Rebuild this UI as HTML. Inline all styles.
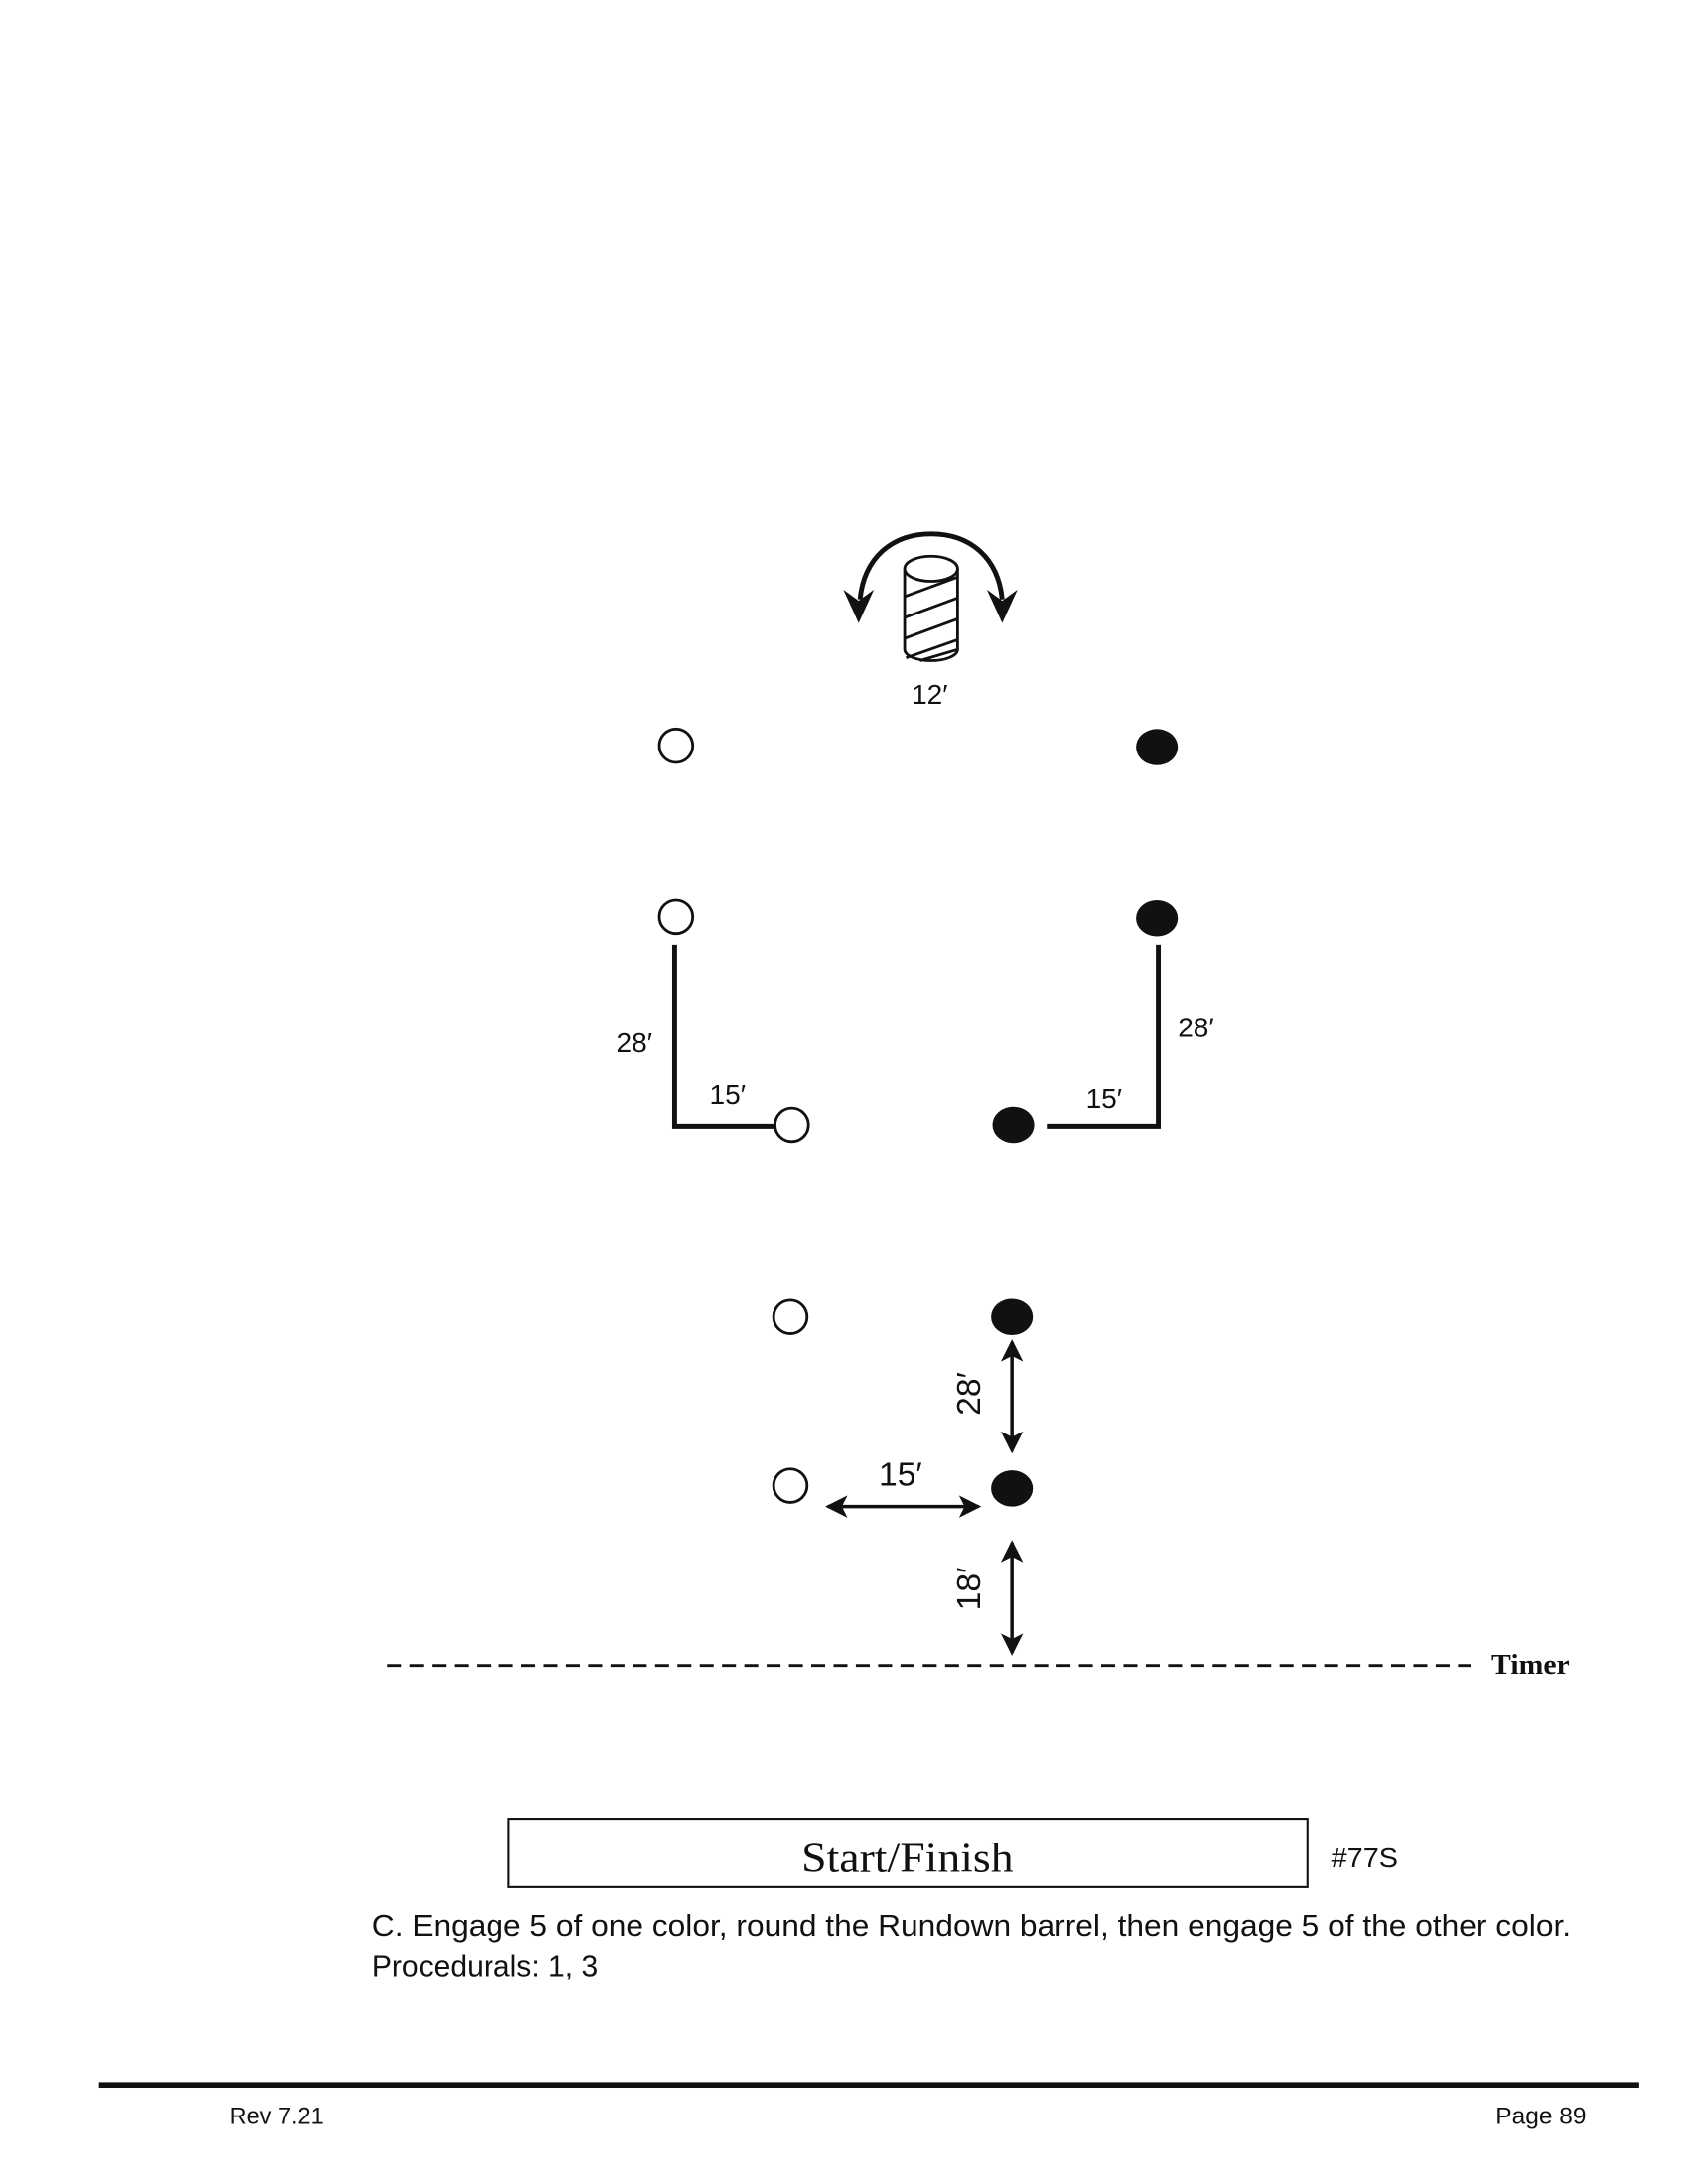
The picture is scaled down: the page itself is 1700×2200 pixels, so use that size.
<!DOCTYPE html>
<html><head><meta charset="utf-8"><style>html,body{margin:0;padding:0;background:#fff}svg{display:block}</style></head>
<body>
<svg width="1700" height="2200" viewBox="0 0 1211 1567" xmlns="http://www.w3.org/2000/svg">
<defs>
<marker id="ah" viewBox="0 0 16 16" refX="14" refY="8" markerWidth="16" markerHeight="16" markerUnits="userSpaceOnUse" orient="auto-start-reverse">
<path d="M0,0 L16,8 L0,16 L4,8 Z" fill="#111"/></marker>
</defs>
<g font-family="'Liberation Sans',sans-serif" fill="#111">
<!-- barrel -->
<path d="M617,430 C620,400 640,383 668,383 C696,383 716,400 719,430" fill="none" stroke="#111" stroke-width="3.5"/>
<path d="M605,423 L616,447 L627,423 L616,431 Z" fill="#111"/>
<path d="M708,423 L719,447 L730,423 L719,431 Z" fill="#111"/>
<g fill="none" stroke="#111" stroke-width="2">
<ellipse cx="668" cy="408" rx="19" ry="9"/>
<path d="M649,408 V466 A19,8 0 0 0 687,466 V408"/>
<path d="M649,428 L687,414 M649,443 L687,429 M649,458 L687,444 M650,472 L687,459 M660,474 L687,466"/>
</g>
<text x="667" y="505" font-size="20" text-anchor="middle">12′</text>
<!-- cones -->
<g fill="none" stroke="#111" stroke-width="2">
<circle cx="485" cy="535" r="12"/><circle cx="485" cy="658" r="12"/>
<circle cx="568" cy="807" r="12"/><circle cx="567" cy="945" r="12"/><circle cx="567" cy="1066" r="12"/>
</g>
<ellipse cx="830" cy="536" rx="15" ry="13"/><ellipse cx="830" cy="659" rx="15" ry="13"/>
<ellipse cx="727" cy="807" rx="15" ry="13"/><ellipse cx="726" cy="945" rx="15" ry="13"/><ellipse cx="726" cy="1068" rx="15" ry="13"/>
<!-- L lines -->
<path d="M484,678 V808 H556 M831,678 V808 H751" fill="none" stroke="#111" stroke-width="3.5"/>
<text x="455" y="755" font-size="20" text-anchor="middle">28′</text>
<text x="522" y="792" font-size="20" text-anchor="middle">15′</text>
<text x="858" y="744" font-size="20" text-anchor="middle">28′</text>
<text x="792" y="795" font-size="20" text-anchor="middle">15′</text>
<!-- arrows -->
<g stroke="#111" stroke-width="2.5">
<line x1="726" y1="963" x2="726" y2="1041" marker-start="url(#ah)" marker-end="url(#ah)"/>
<line x1="594" y1="1081" x2="702" y2="1081" marker-start="url(#ah)" marker-end="url(#ah)"/>
<line x1="726" y1="1107" x2="726" y2="1186" marker-start="url(#ah)" marker-end="url(#ah)"/>
</g>
<text transform="translate(703,1000) rotate(-90)" font-size="24" text-anchor="middle">28′</text>
<text x="646" y="1066" font-size="24" text-anchor="middle">15′</text>
<text transform="translate(703,1140) rotate(-90)" font-size="24" text-anchor="middle">18′</text>
<!-- timer -->
<line x1="278" y1="1195" x2="1055" y2="1195" stroke="#111" stroke-width="2" stroke-dasharray="10,6"/>
<text x="1070" y="1201" font-size="20" font-weight="bold" font-family="'Liberation Serif',serif" textLength="56" lengthAdjust="spacingAndGlyphs">Timer</text>
<!-- start box -->
<rect x="365" y="1305" width="573" height="49" fill="none" stroke="#111" stroke-width="1.5"/>
<text x="575" y="1343" font-size="30" font-family="'Liberation Serif',serif" textLength="152" lengthAdjust="spacingAndGlyphs">Start/Finish</text>
<text x="955" y="1340" font-size="20" textLength="48" lengthAdjust="spacingAndGlyphs">#77S</text>
<text x="267" y="1389" font-size="22" textLength="860" lengthAdjust="spacingAndGlyphs">C. Engage 5 of one color, round the Rundown barrel, then engage 5 of the other color.</text>
<text x="267" y="1418" font-size="22" textLength="162" lengthAdjust="spacingAndGlyphs">Procedurals: 1, 3</text>
<!-- footer -->
<rect x="71" y="1494" width="1105" height="4"/>
<text x="165" y="1524" font-size="17" textLength="67" lengthAdjust="spacingAndGlyphs">Rev 7.21</text>
<text x="1073" y="1524" font-size="17" textLength="65" lengthAdjust="spacingAndGlyphs">Page 89</text>
</g>
</svg>
</body></html>
